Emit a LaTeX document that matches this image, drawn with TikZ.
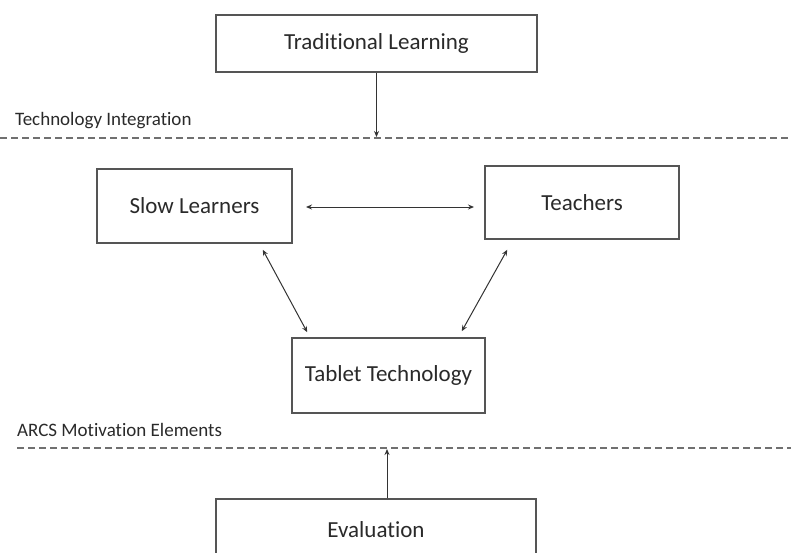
\documentclass[tikz,border=0pt]{standalone}
\usepackage{fontspec}
\setmainfont[Ligatures=NoCommon]{Carlito}
\usetikzlibrary{arrows.meta,calc}
\definecolor{linegray}{HTML}{555555}
\definecolor{dashgray}{HTML}{707070}
\definecolor{textgray}{HTML}{2A2A2A}
\tikzset{
  box/.style={draw=linegray,line width=1.5pt,fill=white,inner sep=0pt,font=\fontsize{23}{27}\selectfont,text=textgray},
  sepline/.style={draw=dashgray,line width=1.4pt,dash pattern=on 7pt off 4pt},
  lab/.style={anchor=base west,inner sep=0pt,font=\fontsize{19}{23}\selectfont,text=textgray},
  arr/.style={draw=black!80,line width=1pt,-{Stealth[length=6pt,width=5pt]}},
  arrs/.style={draw=black!80,line width=1pt,{Stealth[length=6pt,width=5pt]}-{Stealth[length=6pt,width=5pt]}},
}
\begin{document}
\begin{tikzpicture}[x=1pt,y=-1pt]
\useasboundingbox (0,0) rectangle (791,552);
\clip (0,0) rectangle (791,552);
% separators
\coordinate (d1w) at (0,138);
\coordinate (d1e) at (791,138);
\coordinate (d2w) at (17,448);
\coordinate (d2e) at (791,448);
\draw[sepline] (d1w) -- (d1e);
\draw[sepline] (d2w) -- (d2e);
\node[lab] (lab1) at (15,125) {Technology Integration};
\node[lab] (lab2) at (17,436) {ARCS Motivation Elements};
% boxes
\node[box,minimum width=321pt,minimum height=57pt] (trad) at (376.5,43.5) {Traditional Learning};
\node[box,minimum width=195pt,minimum height=74pt] (slow) at (194.5,206) {Slow Learners};
\node[box,minimum width=194pt,minimum height=73pt] (teach) at (582,202.5) {Teachers};
\node[box,minimum width=193pt,minimum height=75pt] (tablet) at (388.5,375.5) {Tablet Technology};
\node[box,minimum width=320pt,minimum height=61pt] (eval) at (376,529.5) {Evaluation};
% connectors
\coordinate (t1) at (376.5,137);
\draw[arr] (trad.south) -- (t1);
\coordinate (h1) at (306,207);
\coordinate (h2) at (474,207);
\draw[arrs] (h1) -- (h2);
\draw[arrs] ($(slow.south east)+(-30,6)$) -- ($(tablet.north west)+(16,-5)$);
\draw[arrs] ($(teach.south west)+(23,10)$) -- ($(tablet.north east)+(-24,-6)$);
\coordinate (e1) at (387,449);
\draw[arr] (e1 |- eval.north) -- (e1);
\end{tikzpicture}
\end{document}
